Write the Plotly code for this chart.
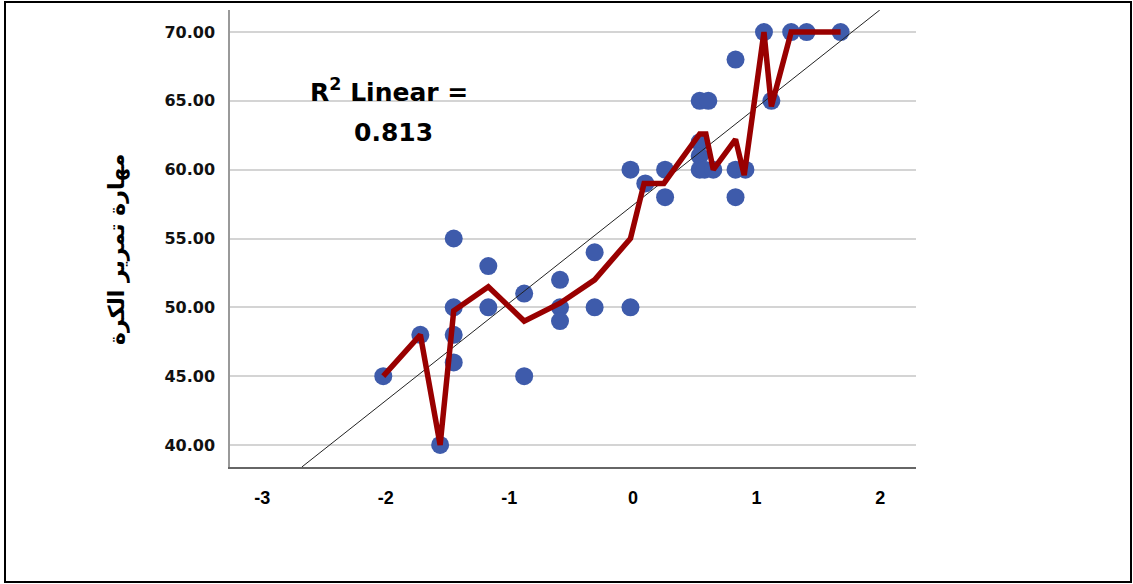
import numpy as np
import plotly.graph_objects as go

# ---- data ----
pts_x = [-2.02, -1.72, -1.56, -1.45, -1.45, -1.45, -1.45, -1.17, -1.17,
         -0.88, -0.88, -0.59, -0.59, -0.59, -0.31, -0.31, -0.02, -0.02,
         0.10, 0.26, 0.26, 0.54, 0.54, 0.54, 0.54, 0.58, 0.61, 0.65,
         0.83, 0.83, 0.83, 0.91, 1.06, 1.12, 1.28, 1.405, 1.68]
pts_y = [45, 48, 40, 55, 50, 48, 46, 53, 50,
         51, 45, 52, 50, 49, 54, 50, 60, 50,
         59, 60, 58, 65, 62, 61, 60, 60, 65, 60,
         68, 60, 58, 60, 70, 65, 70, 70, 70]

# subgroup mean line (red)
mean_x = [-2.02, -1.72, -1.56, -1.45, -1.17, -0.88, -0.59, -0.31, -0.02,
          0.09, 0.25, 0.54, 0.59, 0.65, 0.83, 0.90, 1.06, 1.12, 1.28, 1.405, 1.68]
mean_y = [45, 48, 40, 49.75, 51.5, 49.0, 50.3, 52, 55,
          59, 59, 62.6, 62.6, 60, 62.2, 59.6, 70, 64.6, 70, 70, 70]

fit_intercept = 57.42
fit_slope = 7.10
r2_text = "0.813"

x_ticks = [-3, -2, -1, 0, 1, 2]
y_ticks = [40, 45, 50, 55, 60, 65, 70]
y_title = "مهارة تمرير الكرة"

x_range = [-3.26, 2.29]
y_range = [38.4, 71.6]

# ---- figure ----
W, H = 1133, 584
L, R, T, B = 230, 1133 - 916, 10, 584 - 467
pw, ph = W - L - R, H - T - B

def px(xp):
    return (xp - L) / pw

def py(yp):
    return (H - B - yp) / ph

fit_x = [(y_range[0] - fit_intercept) / fit_slope, (y_range[1] - fit_intercept) / fit_slope]
fit_y = [fit_intercept + fit_slope * v for v in fit_x]

fig = go.Figure()
fig.add_trace(go.Scatter(x=pts_x, y=pts_y, mode="markers",
                         marker=dict(size=18, color="#3E5BAB", line=dict(width=0)),
                         showlegend=False, hoverinfo="skip"))
fig.add_trace(go.Scatter(x=fit_x, y=fit_y, mode="lines",
                         line=dict(color="#222222", width=1),
                         showlegend=False, hoverinfo="skip"))
fig.add_trace(go.Scatter(x=mean_x, y=mean_y, mode="lines",
                         line=dict(color="#990000", width=5.5),
                         showlegend=False, hoverinfo="skip"))

fig.update_layout(
    width=W, height=H,
    margin=dict(l=L, r=R, t=T, b=B),
    paper_bgcolor="white", plot_bgcolor="white",
    xaxis=dict(range=x_range, tickvals=x_ticks, ticktext=[str(v) for v in x_ticks],
               showgrid=False, zeroline=False, showline=True, linecolor="#666666",
               linewidth=1.5, ticks="", ticklabelstandoff=14,
               tickfont=dict(family="Liberation Sans", size=18, color="black", weight="bold")),
    yaxis=dict(range=y_range, tickvals=y_ticks, ticktext=[f"{v:.2f}" for v in y_ticks],
               showgrid=True, gridcolor="#D4D4D4", gridwidth=2, zeroline=False,
               showline=True, linecolor="#999999", linewidth=1.5, ticks="",
               ticklabelstandoff=10,
               tickfont=dict(family="DejaVu Sans", size=16, color="#111111", weight="bold")),
    annotations=[
        dict(xref="paper", yref="paper", x=px(389), y=py(90), text="R<sup>2</sup> Linear =",
             showarrow=False, xanchor="center", yanchor="middle",
             font=dict(family="DejaVu Sans", size=25, color="black", weight="bold")),
        dict(xref="paper", yref="paper", x=px(393), y=py(132), text=r2_text,
             showarrow=False, xanchor="center", yanchor="middle",
             font=dict(family="DejaVu Sans", size=25, color="black", weight="bold")),
        dict(xref="paper", yref="paper", x=px(117), y=py(250), text=y_title,
             showarrow=False, xanchor="center", yanchor="middle", textangle=-90,
             font=dict(family="DejaVu Sans", size=22, color="black", weight="bold")),
    ],
    shapes=[
        dict(type="rect", xref="paper", yref="paper",
             x0=px(5), x1=px(1131), y0=py(582), y1=py(2),
             line=dict(color="black", width=2), fillcolor="rgba(0,0,0,0)", layer="below"),
    ],
)

fig.write_html("out.html", config={"displayModeBar": False},
               post_script="document.body.style.margin='0';document.body.style.padding='0';")
